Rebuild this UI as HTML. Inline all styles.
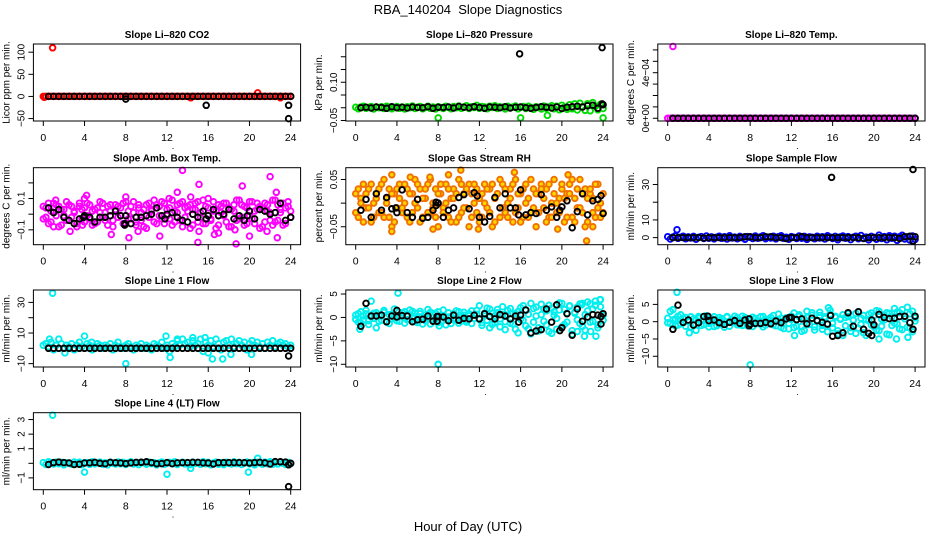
<!DOCTYPE html>
<html><head><meta charset="utf-8"><style>
html,body{margin:0;padding:0;background:#fff;}
svg{display:block;font-family:"Liberation Sans",sans-serif;}
</style></head><body>
<svg id="chart" width="936" height="540" viewBox="0 0 936 540" xmlns="http://www.w3.org/2000/svg">
<text x="468" y="14" text-anchor="middle" font-size="13">RBA_140204&#160; Slope Diagnostics</text>
<text x="468" y="531" text-anchor="middle" font-size="13">Hour of Day (UTC)</text>
</svg>
<script>
const hoursA=[0,0.25,0.5,0.75,1,1.25,1.5,1.75,2,2.25,2.5,2.75,3,3.25,3.5,3.75,4,4.25,4.5,4.75,5,5.25,5.5,5.75,6,6.25,6.5,6.75,7,7.25,7.5,7.75,8,8.25,8.5,8.75,9,9.25,9.5,9.75,10,10.25,10.5,10.75,11,11.25,11.5,11.75,12,12.25,12.5,12.75,13,13.25,13.5,13.75,14,14.25,14.5,14.75,15,15.25,15.5,15.75,16,16.25,16.5,16.75,17,17.25,17.5,17.75,18,18.25,18.5,18.75,19,19.25,19.5,19.75,20,20.25,20.5,20.75,21,21.25,21.5,21.75,22,22.25,22.5,22.75,23,23.25,23.5,23.75,24];
const hoursB=[0.5,1,1.5,2,2.5,3,3.5,4,4.5,5,5.5,6,6.5,7,7.5,8,8.5,9,9.5,10,10.5,11,11.5,12,12.5,13,13.5,14,14.5,15,15.5,16,16.5,17,17.5,18,18.5,19,19.5,20,20.5,21,21.5,22,22.5,23,23.5,24];
const xTicks=[0,4,8,12,16,20,24];
const zerosA=[0,0,0,0,0,0,0,0,0,0,0,0,0,0,0,0,0,0,0,0,0,0,0,0,0,0,0,0,0,0,0,0,0,0,0,0,0,0,0,0,0,0,0,0,0,0,0,0,0,0,0,0,0,0,0,0,0,0,0,0,0,0,0,0,0,0,0,0,0,0,0,0,0,0,0,0,0,0,0,0,0,0,0,0,0,0,0,0,0,0,0,0,0,0,0,0,0];
const zerosB=[0,0,0,0,0,0,0,0,0,0,0,0,0,0,0,0,0,0,0,0,0,0,0,0,0,0,0,0,0,0,0,0,0,0,0,0,0,0,0,0,0,0,0,0,0,0,0,0];
// P1 CO2
const co2Red=zerosA;
const co2RedOut=[[0.9,110],[20.8,8],[23,-3],[14.3,-3],[0.1,-2]];
const co2Black=zerosB;
const co2BlackOut=[[8,-6],[15.8,-20],[23.8,-20],[23.8,-50]];
// P2 pressure
const presGreen=[.002,-.004,.003,.006,-.002,.001,.005,-.005,.003,.000,.004,-.003,.006,.002,-.004,.001,.005,-.002,.003,-.005,.004,.000,.007,-.003,.002,.005,-.004,.001,.006,-.002,.003,-.005,.004,.001,-.003,.006,.002,-.004,.005,.000,.007,-.002,.003,.008,-.003,.004,.001,.009,-.002,.005,.003,-.004,.006,.001,.008,-.003,.004,.002,-.005,.006,.000,.003,.007,-.004,.002,.005,-.003,.006,.001,-.006,.004,.002,-.005,.007,-.002,.003,.008,-.004,.006,-.008,.010,.002,-.006,.012,-.004,.015,-.009,.018,.004,-.010,.016,-.012,.020,.006,-.008,.014,-.003];
const presGreenOut=[[8,-.04],[16,-.04],[24,-.04],[18.6,-.03]];
const presBlack=[.000,.002,-.001,.003,.001,-.002,.004,.000,.002,-.001,.003,.001,.000,.004,-.002,.002,.001,.003,-.001,.005,.002,.000,.004,.001,-.002,.003,.002,.000,.004,-.001,.002,.003,.000,-.002,.001,.004,.002,-.001,.003,-.003,.002,.004,.006,.003,.008,.010,-.002,.012];
const presBlackOut=[[15.9,.211],[23.9,.236],[23.9,.015]];
// P3 temp
const tempMag=zerosA;
const tempMagOut=[[0.5,0.00063]];
const tempBlack=zerosB;
// P4 amb box
const ambA=[-.03,.04,-.06,.02,.07,-.01,.05,-.07,.03,-.04,.06,-.02,.01,-.08,.05,.03,-.05,.07,-.03,.02,-.06,.04,.08,-.02,.01,-.07,.06,-.04,.03,.05,-.01,.07,-.06,.02,-.03,.08,-.05,.04,.01,-.08,.06,-.02,.03,.09,-.06,.05,-.03,.07,-.01,.04,-.07,.02,.06,-.04,.08,-.02,.05,-.09,.03,.07,-.05,.01,.09,-.06,.04,-.03,.08,.02,-.07,.05,-.01,.07,-.08,.03,.06,-.04,.09,-.02,.05,-.06,.08,-.03,.02,.07,-.09,.04,-.05,.06,.01,-.07,.09,-.04,.03,.07,-.06,.05,.02];
const ambB=[.05,-.02,.07,-.05,.01,.06,-.08,.03,-.01,.08,-.04,.05,.02,-.06,.07,-.03,.04,-.01,.06,-.07,.03,-.05,.01,.07,-.04,.05,.02,-.08,.06,-.02,.04,-.06,.08,-.03,.05,.01,-.07,.06,-.04,.03,-.09,.07,.02,-.05,.06,-.01,.08,-.06,.03,-.03,.09,-.05,.01,.07,-.08,.04,.02,.06,-.07,.03,.08,-.02,-.06,.05,.10,-.04,.02,-.09,.06,.01,.07,-.05,.04,-.08,.02,.09,-.03,.06,-.07,.04,-.01,.08,-.06,.03,.05,-.08,.07,.02,-.04,.09,-.05,.06,.01,-.07,.04,.08,-.02];
const ambOut=[[1,-.08],[1.2,.09],[2.6,-.11],[4.2,.12],[4,.1],[6.6,-.13],[8,.11],[8.3,-.15],[9.2,-.11],[11.3,-.14],[13.5,.28],[13,.14],[15.1,.19],[15,-.18],[15.1,-.11],[16.6,-.13],[17,-.12],[18.7,-.19],[19.3,.18],[20,-.14],[22,.24],[22.6,.14],[22.7,-.15],[21.7,-.11],[18.6,-.1],[12.2,.1],[14.3,.11],[3.8,-.07]];
const ambBlack=[.04,.01,.03,-.02,-.04,-.06,-.03,-.01,-.02,-.05,-.02,-.02,-.01,.02,-.01,-.01,-.06,-.02,-.02,-.01,.00,.04,-.01,.00,.01,-.02,-.04,-.05,.00,-.02,.02,-.01,.03,-.01,.00,.03,-.03,-.01,-.04,.02,-.03,.03,.02,.00,.01,.07,-.04,-.02];
const ambBlackOut=[[3.9,-.02],[7.9,-.07],[7.9,-.06],[11.8,-.03],[15.8,-.03],[19.8,-.01]];
// P5 RH
const rhA=[.02,-.03,.01,.04,-.01,.03,-.04,.00,.02,-.02,.04,-.03,.01,.03,-.05,.02,-.01,.04,-.02,.00,.03,-.04,.02,.05,-.01,.03,-.03,.01,.04,-.02,.00,.03,-.05,.02,-.01,.04,-.03,.01,.03,-.04,.05,-.02,.02,-.01,.04,-.03,.00,.03,-.04,.02,.04,-.01,.03,-.05,.01,.02,-.03,.04,-.02,.00,.03,-.04,.05,-.01,.02,-.03,.04,.01,-.02,.03,-.05,.02,.04,-.01,.03,-.03,.00,.05,-.02,.01,.03,-.04,.02,.04,-.03,.01,-.01,.05,-.02,.03,-.04,.02,.01,-.03,.04,.00,-.02];
const rhB=[-.02,.03,.00,-.04,.02,-.01,.04,-.03,.01,.03,-.02,.05,.00,-.03,.02,-.04,.03,.01,-.01,.04,-.03,.02,-.02,.00,.04,-.04,.01,.03,-.02,.05,-.01,-.03,.02,.04,-.02,.00,.03,-.04,.01,.02,-.03,.04,-.01,.03,-.05,.02,.04,-.02,.01,-.03,.00,.03,-.02,.04,-.04,.02,.05,-.01,.03,-.03,.01,.04,-.02,.02,-.04,.03,.00,-.03,.05,-.01,.02,-.02,.03,.01,-.04,.04,-.03,.02,.00,-.02,.04,.01,-.03,.02,.05,-.04,.03,-.01,.02,-.05,.01,.03,-.02,.04,-.01,-.03,.02];
const rhOut=[[3.5,-.06],[3.5,.06],[5.3,.055],[7.2,.055],[9,.06],[10.2,.07],[15.4,.065],[20.6,.06],[22.4,-.08],[19.6,-.055],[7.5,-.055],[11.9,-.055],[23,-.05]];
const rhBlack=[-.015,.008,-.03,.02,-.015,.012,-.012,-.02,.028,-.02,-.03,.008,-.032,-.03,-.015,.000,-.03,-.015,-.01,.012,.018,-.012,.022,-.03,-.04,-.028,.012,-.01,.02,-.01,-.01,.028,-.025,-.02,-.022,.018,-.015,-.008,-.03,-.008,.005,-.052,-.018,.02,-.025,.005,.008,-.022];
const rhBlackOut=[[7.8,-.005],[7.8,.002],[3.9,-.01],[11.8,.015],[15.8,-.025],[19.8,-.015],[23.8,.016]];
// P6 sample flow
const sampBlue=[.5,-.8,.3,1,-.4,.2,.8,-.6,.4,-.2,.7,-.9,.1,.6,-.5,.9,-.3,.4,-.7,.2,.8,-.4,.5,-.8,1,-.2,.3,-.6,.7,.0,-.9,.6,.2,-.5,.9,-.3,.4,1.1,-.6,.3,-.2,.8,-.7,.5,1,-.4,.2,-.9,.6,.1,-.5,.9,-.3,.7,-1,.4,.2,-.6,.8,-.2,.5,-.8,1,.3,-.5,.7,-1.2,.4,.9,-.3,.6,-1.1,.2,.8,-.6,1.2,-.4,.3,-1.3,.7,.1,-.9,1.4,-.5,.6,-1.2,1,-.3,.8,-1.5,.5,1.3,-.8,.4,-1.4,.9,-1];
const sampBlueOut=[[0.9,4.5]];
const sampBlack=[0,0,0,0,0,0,-.2,0,0,0,0,0,0,0,.5,.5,0,0,.5,.5,0,0,-.5,0,0,.5,0,0,0,0,0,0,0,0,0,0,0,-.5,0,0,0,0,0,0,-.5,.5,.8,.5];
const sampBlackOut=[[15.9,34],[23.8,38.5],[23.8,-2]];
// P7 line 1
const l1Cyan=[2,3,1,4,-1,2,6,3,0,2,1,3,-1,2,4,1,0,3,2,-1,1,3,2,0,2,1,3,-1,2,4,1,0,2,3,1,-1,2,1,3,0,2,1,-1,3,2,1,4,0,2,-2,3,1,5,2,6,3,4,1,5,2,3,6,-2,4,2,5,1,6,3,-1,4,5,2,6,1,3,5,2,4,-1,3,5,2,4,1,3,0,4,2,5,1,3,4,2,3,1,2];
const l1CyanOut=[[0.9,36],[0.6,6],[4,8],[4.7,4],[8,-10],[11.9,8],[12.3,-6],[16.4,-7],[17.4,-7],[13,6],[14.5,7],[15.7,7],[2.1,-3],[16,-3],[20.2,-4],[18.2,-4]];
const l1Black=zerosB;
const l1BlackOut=[[23.8,-5]];
// P8 line 2
const l2A=[.5,-1,1.2,-.5,.8,-1.5,3.5,-.2,1,-.8,.3,1.5,-1,.6,-.3,1.8,-.7,.2,1,-1.2,.7,-.4,1.3,-.9,.2,.8,-1.4,.5,-.2,1.1,-.6,.9,-1.1,.4,1.6,-.5,.1,-1.3,.8,-.3,1.2,-.8,.5,-1,.3,1.4,-.2,.7,2.5,-1.1,.9,-.6,1.8,-1.5,.4,1,-2,.6,-.9,1.5,-1.2,.8,-2.5,1.3,-.4,2.5,-1.8,.7,-3.5,1.9,.3,-2.2,2.8,-.8,1.4,-3,2,.5,-2.5,1.6,3,-1.5,.9,2.4,-2.8,1.1,-.5,2.9,-1.9,.6,3.3,-1,1.8,2.6,-2.2,3.8,.4];
const l2B=[-.4,.8,-1.2,.3,1.5,-.7,.1,.9,-2.2,.5,-.6,1.1,.2,-1.3,.7,-.1,1.4,-.8,.4,1.2,-.5,1.6,-.2,.9,-1.1,1.3,.1,-.7,1.7,-1.4,.6,-.3,1.2,-.9,.3,-1.6,1,.2,-.5,1.4,-1.2,.4,1.1,-.6,.8,-1.3,.5,1.5,-.4,-1.7,.3,2,-2.2,.9,-1.1,1.7,-.3,2.3,-2.6,.5,1.9,-1.4,.8,-3.3,2.1,-.6,1.5,-2.4,3,-1,2.2,-2.9,.6,1.8,-1.6,2.6,-3.4,1.2,-.2,3.1,-2,1.7,-1,2.5,-3.6,.9,2.2,-1.3,3,-2.7,1.4,2.9,-.8,3.5,-1.6,2.3,-.6];
const l2CyanOut=[[4.1,5.2],[8,-10],[0.4,-2.5],[8.1,-1.8],[21.5,-3],[22.2,-4],[22.8,-3],[23.3,-4],[23.7,3.8],[21.9,2.7]];
const l2Black=[-1.9,3,.3,.3,.5,-.9,.3,1.5,.4,.3,-.9,-.5,-.4,.3,-.8,.2,.1,-.7,.5,-.6,-.2,-.3,.5,-.3,.8,.2,-.3,.6,.3,-.3,.3,.5,1.6,-3.3,-2.9,-2.6,1.8,-1,2.7,-2.2,.8,-3.8,1.8,-.8,.1,.6,.5,.8];
const l2BlackOut=[[23.8,-1.4],[23.8,.2],[15.8,-1],[7.9,-.8],[7.9,.2],[19.8,-2.8],[4,.1]];
// P9 line 3
const l3A=[1,-.5,3.5,.8,-1,2,-.3,1.2,.4,-1.5,.8,-2.5,1.5,.2,-.8,1.1,-.4,.6,1.4,-1.2,.3,.9,-1.6,1.3,-.2,.7,1.6,-.9,.4,-1.1,1.2,-.3,.5,-1.4,.9,.1,-.7,1.5,-1,.6,-.3,1.8,-1.2,.4,1,-2,.8,-.5,1.6,-1.7,.6,2,-1.4,-2.5,1.2,-.8,2.6,-1.5,.4,1.8,-2.2,.9,-.6,2.2,-1.8,1.3,-3.5,.7,2,-1.2,1.5,-2.8,.4,2.4,-1.9,1,-3.2,.6,2.1,-.9,1.7,-2.5,3,-1.3,.5,2.6,-3.8,1.4,-.4,2.8,-2.1,3.5,.8,-1.6,2.3,-2.9,1.1];
const l3B=[-.3,3,.5,-1.2,1.6,-.6,.9,-1.3,.2,1.4,-.8,.5,1,-1.1,.3,1.7,-.5,.8,-1.4,.6,1.2,-.7,.2,1.5,-1.3,.4,-.2,1.1,-.9,1.6,.3,-1.2,.8,1.3,-.6,.2,1.4,-1.5,.7,-.1,1.2,-.9,.5,2.2,-1.6,.3,1.1,-2.1,.6,2.5,-1.3,1.5,-2.8,.8,3,-.7,1.9,-2.4,.2,2.7,-1.1,1.4,-2.9,3.3,-.5,1.6,-2.6,.9,-4,1.2,2.3,-1.7,.5,-3.4,2.8,-.8,1.8,-4,.3,2.5,-1.5,3.2,-2.6,.7,1.9,-3.6,2.4,-1.1,3.8,-.6,2.6,-2.3,1.5,4.2,-1.8,3,.2];
const l3CyanOut=[[0.9,8.5],[8,-12.5],[2.1,-3.2],[12.3,-4],[20.5,-5],[22.2,-5],[23.3,-4.5],[15.6,4],[4,-1.5]];
const l3Black=[-2.2,4.8,-.2,.5,-1,-.3,1.5,.3,.5,-.3,-.8,-.2,.3,-.5,.5,-.7,-.5,-.5,-.2,-.6,.2,-.3,.8,1.2,.6,.8,-.6,1,.3,-.2,-.7,-4.2,-4,-3.2,2.6,-1.3,2.9,-2.2,-3.4,-.9,2.1,1.2,.9,1,1.5,1.6,-.3,1.6];
const l3BlackOut=[[19.8,-4],[19.8,.5],[23.8,-2.2],[15.8,1.8],[11.8,1.2],[3.9,1.6],[7.9,.8],[7.9,-1.2]];
// P10 line 4
const l4Cyan=[.05,-.08,.1,.02,-.05,.08,-.03,.06,-.1,.04,.01,-.06,.09,-.02,.07,-.09,.03,.05,-.07,.1,-.04,.02,.08,-.06,.04,-.1,.07,.01,-.05,.09,-.03,.06,-.08,.03,.1,-.05,.02,-.09,.07,.04,-.06,.08,-.02,.05,-.1,.03,.09,-.07,.01,.06,-.04,.1,-.08,.02,.07,-.05,.04,-.09,.08,-.01,.05,-.07,.1,-.03,.06,-.1,.02,.08,-.06,.04,-.09,.07,.01,-.05,.1,-.02,.06,-.08,.03,.09,-.04,.05,-.1,.07,.02,-.06,.08,-.03,.1,-.07,.04,-.05,.09,.01,-.08,.06,-.02];
const l4CyanOut=[[0.9,3.3],[4,-.6],[12,-.75],[19.9,-.6],[14.3,-.35],[20.8,.35]];
const l4Black=[-.08,.05,.08,.05,.02,-.08,-.06,.02,.03,.06,0,-.03,.06,.04,.02,-.02,.03,.06,.07,.1,.05,-.03,-.02,.05,-.02,.03,.05,.05,.06,.06,.03,.02,-.05,.05,.05,.05,.05,.05,.04,.02,.05,.06,.03,-.05,.12,.1,.08,0];
const l4BlackOut=[[23.8,-1.6],[23.8,-.1]];

const NS="http://www.w3.org/2000/svg";
const svg=document.getElementById('chart');
const colX0=[43.3,355.7,667.7], pxH=247.4/24;
const rowTop=[44,167.7,290,412.7], boxH=77;
function mk(tag,attrs,parent){const e=document.createElementNS(NS,tag);for(const k in attrs)e.setAttribute(k,attrs[k]);(parent||svg).appendChild(e);return e;}
function pts(hours,vals){const o=[];for(let i=0;i<vals.length&&i<hours.length;i++)o.push([hours[i],vals[i]]);return o;}

const panels=[
 {name:'co2',title:'Slope Li\u2013820 CO2',ylab:'Licor ppm per min.',c:0,r:0,ylim:[-55.5,118.5],ticks:[-50,0,50,100],labels:{'-50':'\u221250','0':'0','50':'50','100':'100'},
  series:[{p:pts(hoursA,co2Red).concat(co2RedOut),col:'#ff0000'},{p:pts(hoursB,co2Black).concat(co2BlackOut),col:'#000'}]},
 {name:'pressure',title:'Slope Li\u2013820 Pressure',ylab:'kPa per min.',c:1,r:0,ylim:[-0.052,0.25],ticks:[-0.05,0,0.05,0.1,0.15,0.2],labels:{'-0.05':'\u22120.05','0.1':'0.10'},
  series:[{p:pts(hoursA,presGreen).concat(presGreenOut),col:'#00dd00'},{p:pts(hoursB,presBlack).concat(presBlackOut),col:'#000'}]},
 {name:'temp',title:'Slope Li\u2013820 Temp.',ylab:'degrees C per min.',c:2,r:0,ylim:[-0.000024,0.000652],ticks:[0,0.0001,0.0002,0.0003,0.0004,0.0005,0.0006],labels:{'0':'0e+00','0.0004':'4e\u221204'},
  series:[{p:pts(hoursA,tempMag).concat(tempMagOut),col:'#ff00ff'},{p:pts(hoursB,tempBlack),col:'#000'}]},
 {name:'amb-box-temp',title:'Slope Amb. Box Temp.',ylab:'degrees C per min.',c:0,r:1,ylim:[-0.195,0.297],ticks:[-0.1,0,0.1,0.2],labels:{'-0.1':'\u22120.1','0.1':'0.1'},
  series:[{p:pts(hoursA,ambA).concat(pts(hoursA,ambB),ambOut),col:'#ff00ff'},{p:pts(hoursB,ambBlack).concat(ambBlackOut),col:'#000'}]},
 {name:'gas-stream-rh',title:'Slope Gas Stream RH',ylab:'percent per min.',c:1,r:1,ylim:[-0.088,0.075],ticks:[-0.05,0,0.05],labels:{'-0.05':'\u22120.05','0.05':'0.05'},
  series:[{p:pts(hoursA,rhA).concat(pts(hoursA,rhB),rhOut),col:'#f07000',fill:'#ffd400'},{p:pts(hoursB,rhBlack).concat(rhBlackOut),col:'#000'}]},
 {name:'sample-flow',title:'Slope Sample Flow',ylab:'ml/min per min.',c:2,r:1,ylim:[-4,39.5],ticks:[0,10,20,30],labels:{'0':'0','10':'10','30':'30'},
  series:[{p:pts(hoursA,sampBlue).concat(sampBlueOut),col:'#0000ff'},{p:pts(hoursB,sampBlack).concat(sampBlackOut),col:'#000'}]},
 {name:'line1-flow',title:'Slope Line 1 Flow',ylab:'ml/min per min.',c:0,r:2,ylim:[-12.2,38.1],ticks:[-10,0,10,20,30],labels:{'-10':'\u221210','10':'10','30':'30'},
  series:[{p:pts(hoursA,l1Cyan).concat(l1CyanOut),col:'#00eeee'},{p:pts(hoursB,l1Black).concat(l1BlackOut),col:'#000'}]},
 {name:'line2-flow',title:'Slope Line 2 Flow',ylab:'ml/min per min.',c:1,r:2,ylim:[-10.58,5.86],ticks:[-10,-5,0,5],labels:{'-10':'\u221210','-5':'\u22125','0':'0','5':'5'},
  series:[{p:pts(hoursA,l2A).concat(pts(hoursA,l2B),l2CyanOut),col:'#00eeee'},{p:pts(hoursB,l2Black).concat(l2BlackOut),col:'#000'}]},
 {name:'line3-flow',title:'Slope Line 3 Flow',ylab:'ml/min per min.',c:2,r:2,ylim:[-13.1,9.16],ticks:[-10,-5,0,5],labels:{'-10':'\u221210','-5':'\u22125','0':'0','5':'5'},
  series:[{p:pts(hoursA,l3A).concat(pts(hoursA,l3B),l3CyanOut),col:'#00eeee'},{p:pts(hoursB,l3Black).concat(l3BlackOut),col:'#000'}]},
 {name:'line4-flow',title:'Slope Line 4 (LT) Flow',ylab:'ml/min per min.',c:0,r:3,ylim:[-1.81,3.47],ticks:[-1,0,1,2,3],labels:{'-1':'\u22121','1':'1','2':'2','3':'3'},
  series:[{p:pts(hoursA,l4Cyan).concat(l4CyanOut),col:'#00eeee'},{p:pts(hoursB,l4Black).concat(l4BlackOut),col:'#000'}]}
];

panels.forEach(P=>{
  const g=mk('g',{});
  
  
  const x0=colX0[P.c], left=x0-0.96*pxH, W=25.92*pxH, top=rowTop[P.r], bot=top+boxH;
  const sx=h=>x0+h*pxH;
  const sy=v=>bot-(v-P.ylim[0])/(P.ylim[1]-P.ylim[0])*boxH;
  const t=mk('text',{x:left+W/2,y:top-6,'text-anchor':'middle','font-size':'10','font-weight':'bold'},g);
  t.textContent=P.title;
  
  
  const yl=mk('text',{transform:`translate(${left-24},${top+boxH/2}) rotate(-90)`,'text-anchor':'middle','font-size':'10'},g);
  yl.textContent=P.ylab;
  
  
  const dot=mk('text',{x:left+W/2+6,y:bot+28,'text-anchor':'middle','font-size':'9'},g);
  dot.textContent='.';
  
  
  const plot=mk('g',{},g);
  
  
  P.series.forEach(s=>{
    s.p.forEach(([h,v])=>{
      const c=mk('circle',{cx:sx(h).toFixed(1),cy:sy(v).toFixed(1),r:2.8,fill:s.fill||'none',stroke:s.col,'stroke-width':1.9},plot);
      
      
    });
  });
  const box=mk('rect',{x:left,y:top,width:W,height:boxH,fill:'none',stroke:'#000','stroke-width':1},g);
  
  
  xTicks.forEach(h=>{
    const l=mk('line',{x1:sx(h),x2:sx(h),y1:bot,y2:bot+5,stroke:'#000'},g);
    
    
    const tx=mk('text',{x:sx(h),y:bot+20,'text-anchor':'middle','font-size':'10.5'},g);
    tx.textContent=String(h);
    
    
  });
  P.ticks.forEach(v=>{
    const y=sy(v);
    const l=mk('line',{x1:left-5,x2:left,y1:y,y2:y,stroke:'#000'},g);
    
    
    const key=String(v);
    if(P.labels[key]!==undefined){
      const ty=mk('text',{transform:`translate(${left-9},${y}) rotate(-90)`,'text-anchor':'middle','font-size':'10'},g);
      ty.textContent=P.labels[key];
      
      
    }
  });
});
</script>
</body></html>
